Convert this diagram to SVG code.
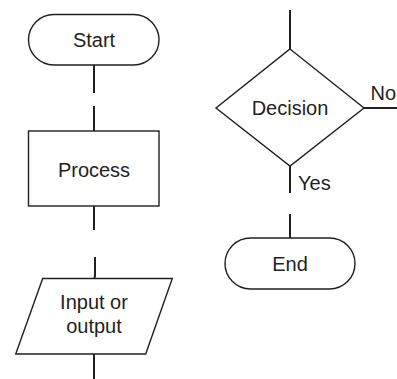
<svg xmlns="http://www.w3.org/2000/svg" width="397" height="379" viewBox="0 0 397 379">
<style>
.shape{fill:#fff;stroke:#231f20;stroke-width:1.4}
.conn{fill:none;stroke:#231f20;stroke-width:2}
text{font-family:"Liberation Sans",Arial,sans-serif;font-size:20px;fill:#231f20}
.c{text-anchor:middle}
</style>
<rect width="397" height="379" fill="#fff"/>
<g id="connectors">
<line class="conn" x1="94" y1="65" x2="94" y2="93"/>
<line class="conn" x1="94" y1="106" x2="94" y2="131"/>
<line class="conn" x1="94" y1="206" x2="94" y2="230"/>
<path class="conn" d="M95 257 L95 276 L94 279"/>
<line class="conn" x1="94" y1="354" x2="94" y2="379"/>
<line class="conn" x1="290" y1="10" x2="290" y2="49"/>
<line class="conn" x1="364" y1="108" x2="397" y2="108"/>
<line class="conn" x1="290" y1="166" x2="290" y2="193"/>
<line class="conn" x1="290" y1="214" x2="290" y2="238"/>
</g>
<g id="start">
<rect class="shape" x="28.5" y="14.5" width="130.5" height="50.5" rx="25.25"/>
<text class="c" x="94" y="47">Start</text>
</g>
<g id="process">
<rect class="shape" x="28.5" y="131" width="130.5" height="75"/>
<text class="c" x="94" y="177">Process</text>
</g>
<g id="io">
<polygon class="shape" points="42.7,278.5 172.3,278.5 145.7,354 15.7,354"/>
<text class="c" x="94" y="309">Input or</text>
<text class="c" x="94" y="333">output</text>
</g>
<g id="decision">
<polygon class="shape" points="290,49 364,108 290,166 216,108"/>
<text class="c" x="290" y="115">Decision</text>
</g>
<g id="end">
<rect class="shape" x="225" y="238" width="130" height="51" rx="25.5"/>
<text class="c" x="290" y="271">End</text>
</g>
<g id="labels">
<text x="370.5" y="100">No</text>
<text x="298" y="190">Yes</text>
</g>
</svg>
